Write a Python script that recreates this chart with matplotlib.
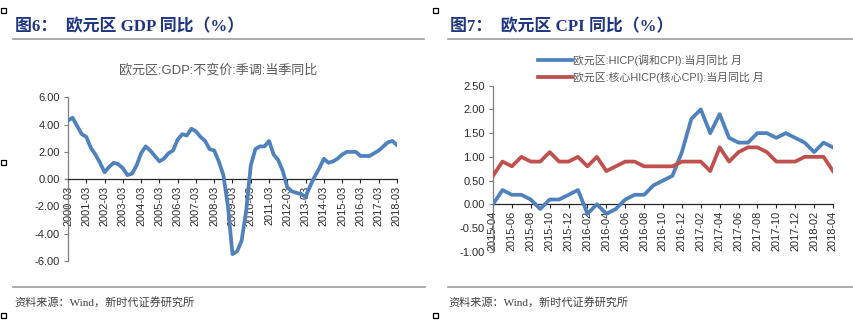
import matplotlib
matplotlib.use("Agg")
import matplotlib.pyplot as plt
from matplotlib.patches import Rectangle
from matplotlib.lines import Line2D
import pandas as pd

# ---------------- data ----------------
gdp_labels = [d.strftime("%Y-%m") for d in pd.date_range("2000-03-01", "2018-03-01", freq="3MS")]
gdp_values = [
    4.3, 4.5, 3.9, 3.3,
    3.1, 2.3, 1.8, 1.2,
    0.5, 0.9, 1.2, 1.1,
    0.8, 0.3, 0.4, 1.0,
    1.9, 2.4, 2.1, 1.7,
    1.3, 1.5, 1.9, 2.1,
    2.9, 3.3, 3.2, 3.7,
    3.5, 3.1, 2.8, 2.2,
    2.1, 1.3, 0.3, -2.0,
    -5.5, -5.3, -4.5, -2.3,
    1.0, 2.2, 2.4, 2.4,
    2.8, 1.8, 1.4, 0.6,
    -0.6, -0.9, -1.0, -1.1,
    -1.3, -0.5, 0.2, 0.8,
    1.5, 1.2, 1.3, 1.5,
    1.8, 2.0, 2.0, 2.0,
    1.7, 1.7, 1.7, 1.9,
    2.1, 2.4, 2.7, 2.8,
    2.5,
]
gdp_yticks = [-6, -4, -2, 0, 2, 4, 6]

cpi_labels = [d.strftime("%Y-%m") for d in pd.date_range("2015-04-01", "2018-04-01", freq="MS")]
hicp_values = [
    0.0, 0.3, 0.2, 0.2, 0.1, -0.1, 0.1, 0.1, 0.2,
    0.3, -0.2, 0.0, -0.2, -0.1, 0.1, 0.2, 0.2, 0.4, 0.5, 0.6, 1.1,
    1.8, 2.0, 1.5, 1.9, 1.4, 1.3, 1.3, 1.5, 1.5, 1.4, 1.5, 1.4,
    1.3, 1.1, 1.3, 1.2,
]
core_values = [
    0.6, 0.9, 0.8, 1.0, 0.9, 0.9, 1.1, 0.9, 0.9,
    1.0, 0.8, 1.0, 0.7, 0.8, 0.9, 0.9, 0.8, 0.8, 0.8, 0.8, 0.9,
    0.9, 0.9, 0.7, 1.2, 0.9, 1.1, 1.2, 1.2, 1.1, 0.9, 0.9, 0.9,
    1.0, 1.0, 1.0, 0.7,
]
cpi_yticks = [-1.0, -0.5, 0.0, 0.5, 1.0, 1.5, 2.0, 2.5]

title_left = "图6：  欧元区 GDP 同比（%）"
title_right = "图7：  欧元区 CPI 同比（%）"
subtitle_left = "欧元区:GDP:不变价:季调:当季同比"
legend_hicp = "欧元区:HICP(调和CPI):当月同比 月"
legend_core = "欧元区:核心HICP(核心CPI):当月同比 月"
source_text = "资料来源：Wind，新时代证券研究所"

# ---------------- layout helpers ----------------
W, H = 854, 326
fig = plt.figure(figsize=(W / 100, H / 100), dpi=100)
fig.patch.set_facecolor("white")


def fx(px):
    return px / W


def fy(py):
    return 1 - py / H


def add_ax(x0, x1, ytop, ybot):
    return fig.add_axes([fx(x0), fy(ybot), fx(x1 - x0), (ybot - ytop) / H])


BLUE = "#4f81bd"
RED = "#c0504d"
SPINE = "#7f7f7f"
TXT = "#2b2b2b"
TICKFONT = ["Liberation Sans", "DejaVu Sans"]
CJK_SANS = ["Liberation Sans", "Noto Sans CJK SC"]
CJK_SERIF = ["Liberation Serif", "Noto Sans CJK SC"]


def style_axes(ax, xlabels, step, yticks, yfmt):
    n = len(xlabels)
    for s in ("top", "right"):
        ax.spines[s].set_visible(False)
    ax.spines["bottom"].set_position(("data", 0))
    ax.spines["bottom"].set_color("#262626")
    ax.spines["bottom"].set_linewidth(0.9)
    ax.spines["left"].set_color(SPINE)
    ax.spines["left"].set_linewidth(0.9)
    ax.set_xlim(0, n - 1)
    ax.set_ylim(yticks[0], yticks[-1])
    ax.set_yticks(yticks)
    ax.set_yticklabels([yfmt.format(v) for v in yticks])
    pos = list(range(0, n, step))
    ax.set_xticks(pos)
    ax.set_xticklabels([xlabels[i] for i in pos])
    ax.tick_params(axis="y", direction="out", length=3, width=0.8, color=SPINE, pad=3,
                   labelsize=8, labelcolor=TXT)
    ax.tick_params(axis="x", direction="out", length=3, width=0.8, color="#262626", pad=2,
                   labelsize=7.9, labelcolor=TXT, labelrotation=90)
    for lab in ax.get_xticklabels() + ax.get_yticklabels():
        lab.set_family(TICKFONT)
    ax.patch.set_alpha(0)


# ---------------- left chart ----------------
axL = add_ax(68, 397, 97.3, 261)
axL.plot(range(len(gdp_values)), gdp_values, color=BLUE, lw=2.7, solid_joinstyle="round", zorder=3)
style_axes(axL, gdp_labels, 4, gdp_yticks, "{:.2f}")

# ---------------- right chart ----------------
axR = add_ax(493, 833, 85.7, 251.7)
axR.plot(range(len(hicp_values)), hicp_values, color=BLUE, lw=2.7, solid_joinstyle="round", zorder=3)
axR.plot(range(len(core_values)), core_values, color=RED, lw=2.7, solid_joinstyle="round", zorder=3)
style_axes(axR, cpi_labels, 2, cpi_yticks, "{:.2f}")

# ---------------- decorations ----------------
TITLE_C = "#1f3584"
fig.text(fx(15), fy(27), title_left, fontsize=12.2, fontweight="bold", color=TITLE_C,
         family=CJK_SERIF, va="center", ha="left")
fig.text(fx(450), fy(27), title_right, fontsize=12.2, fontweight="bold", color=TITLE_C,
         family=CJK_SERIF, va="center", ha="left")

fig.text(fx(218), fy(70), subtitle_left, fontsize=9.4, color="#595959",
         family=CJK_SANS, va="center", ha="center")

# legend for right chart
for yy, col, lab in ((60, BLUE, legend_hicp), (77, RED, legend_core)):
    fig.add_artist(Line2D([fx(538), fx(572)], [fy(yy), fy(yy)], color=col, lw=2.7,
                          transform=fig.transFigure))
    fig.text(fx(573), fy(yy), lab, fontsize=7.8, color="#595959", family=CJK_SANS,
             va="center", ha="left")

# separator lines
for x0, x1, yy in ((13, 424, 39), (448, 854, 39), (13, 425, 287), (448, 854, 287)):
    fig.add_artist(Line2D([fx(x0), fx(x1)], [fy(yy), fy(yy)], color="#a6a6a6", lw=1.3,
                          transform=fig.transFigure))

fig.text(fx(14), fy(302), source_text, fontsize=8, color="#404040", family=CJK_SERIF,
         va="center", ha="left")
fig.text(fx(448), fy(302), source_text, fontsize=8, color="#404040", family=CJK_SERIF,
         va="center", ha="left")

# small hollow squares (page markers)
for x0, y0 in ((1, 8), (1, 160), (1, 313), (433, 8), (433, 313)):
    fig.add_artist(Rectangle((fx(x0), fy(y0 + 5)), 5 / W, 5 / H, fill=False,
                             edgecolor="black", lw=0.9, transform=fig.transFigure))

fig.savefig("out.png", dpi=100, facecolor="white")
